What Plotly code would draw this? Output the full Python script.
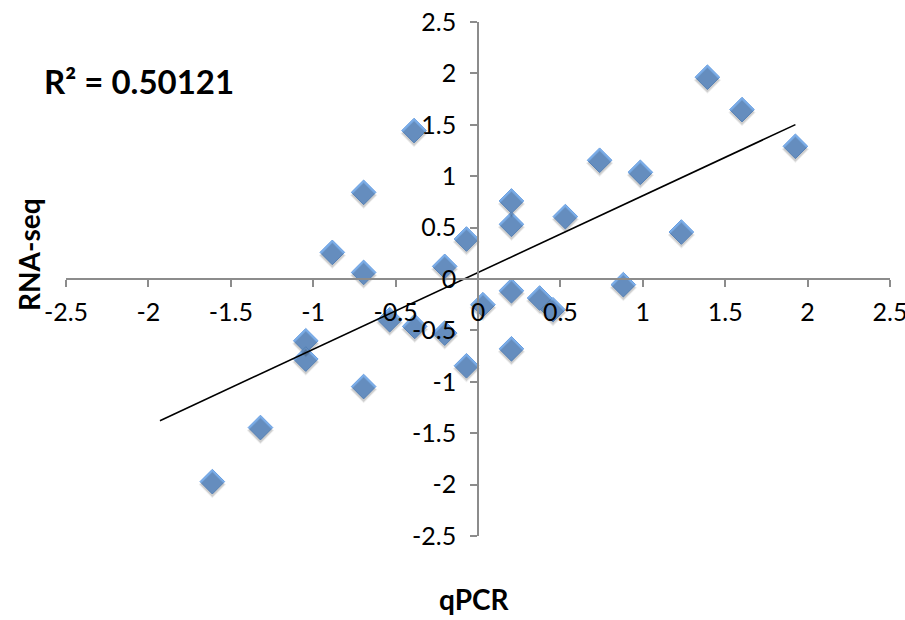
import plotly.graph_objects as go

# qPCR (x) vs RNA-seq (y) values
qpcr = [-0.388, -0.694, -0.884, -0.694, -0.202, 1.392, 1.602, 1.926, 0.738, 0.985,
        0.203, 0.203, 0.530, -0.070, 1.234, 0.882, 0.203, 0.374, 0.455, 0.030,
        0.203, -0.070, -0.536, -0.384, -0.202, -1.045, -1.045, -0.694, -1.320, -1.612]
rnaseq = [1.444, 0.843, 0.259, 0.064, 0.123, 1.963, 1.648, 1.291, 1.155, 1.038,
          0.759, 0.532, 0.607, 0.389, 0.457, -0.055, -0.114, -0.185, -0.299, -0.250,
          -0.679, -0.844, -0.396, -0.461, -0.526, -0.601, -0.779, -1.046, -1.445, -1.971]

# linear trendline
trend_slope = 0.747
trend_intercept = 0.063
trend_x = [-1.93, 1.926]
trend_y = [trend_slope * v + trend_intercept for v in trend_x]

r2_text = "R² = 0.50121"
tick_vals = [-2.5, -2, -1.5, -1, -0.5, 0, 0.5, 1, 1.5, 2, 2.5]
tick_text = ["-2.5", "-2", "-1.5", "-1", "-0.5", "0", "0.5", "1", "1.5", "2", "2.5"]

FONT = "Lato, 'Open Sans', sans-serif"
AX = "#8c8c8c"

fig = go.Figure()

# soft shadow of markers (drawn on slightly shifted hidden axes)
fig.add_trace(go.Scatter(
    x=qpcr, y=rnaseq, mode="markers", yaxis="y2", hoverinfo="skip",
    marker=dict(symbol="diamond", size=21, color="rgba(0,0,0,0.07)",
                line=dict(width=0)),
    showlegend=False))
fig.add_trace(go.Scatter(
    x=qpcr, y=rnaseq, mode="markers", yaxis="y2", hoverinfo="skip",
    marker=dict(symbol="diamond", size=19, color="rgba(0,0,0,0.13)",
                line=dict(width=0)),
    showlegend=False))

fig.add_trace(go.Scatter(
    x=qpcr, y=rnaseq, mode="markers",
    marker=dict(symbol="diamond", size=19, color="#7db0ec",
                line=dict(color="#6a9fe0", width=1)),
    showlegend=False))

fig.add_trace(go.Scatter(
    x=trend_x, y=trend_y, mode="lines",
    line=dict(color="black", width=1.6), showlegend=False))

shift = 3 / 102.7
fig.update_layout(
    width=905, height=620,
    margin=dict(l=66, r=15, t=22, b=84, autoexpand=False),
    paper_bgcolor="white", plot_bgcolor="white",
    font=dict(family=FONT, color="black"),
    xaxis=dict(range=[-2.5, 2.5], tickvals=tick_vals, ticktext=tick_text,
               anchor="free", position=0.5, showline=True, linecolor=AX,
               linewidth=1.5, ticks="outside", ticklen=7, tickcolor=AX,
               tickwidth=1.5, showgrid=False, zeroline=False,
               ticklabeloverflow="allow", automargin=False,
               tickfont=dict(family=FONT, size=25, color="black"),
               ticklabelstandoff=4),
    yaxis=dict(range=[-2.5, 2.5], tickvals=tick_vals, ticktext=tick_text,
               anchor="free", position=0.5, showline=True, linecolor=AX,
               linewidth=1.5, ticks="outside", ticklen=7, tickcolor=AX,
               tickwidth=1.5, showgrid=False, zeroline=False,
               ticklabeloverflow="allow", automargin=False,
               tickfont=dict(family=FONT, size=25, color="black"),
               ticklabelstandoff=9),
    yaxis2=dict(range=[-2.5 + shift, 2.5 + shift], overlaying="y",
                visible=False, showgrid=False, zeroline=False),
    annotations=[
        dict(text="<b>" + r2_text + "</b>", xref="paper", yref="paper",
             x=(42 - 66) / 824, y=(536 - 81) / 514, xanchor="left",
             yanchor="middle", showarrow=False,
             font=dict(family=FONT, size=33, color="black")),
        dict(text="<b>qPCR</b>", xref="paper", yref="paper",
             x=(474 - 66) / 824, y=(536 - 599) / 514, xanchor="center",
             yanchor="middle", showarrow=False,
             font=dict(family=FONT, size=28, color="black")),
        dict(text="<b>RNA-seq</b>", xref="paper", yref="paper",
             x=(29 - 66) / 824, y=(536 - 255) / 514, xanchor="center",
             yanchor="middle", showarrow=False, textangle=-90,
             font=dict(family=FONT, size=28, color="black")),
    ],
)

fig.write_html("out.html")
